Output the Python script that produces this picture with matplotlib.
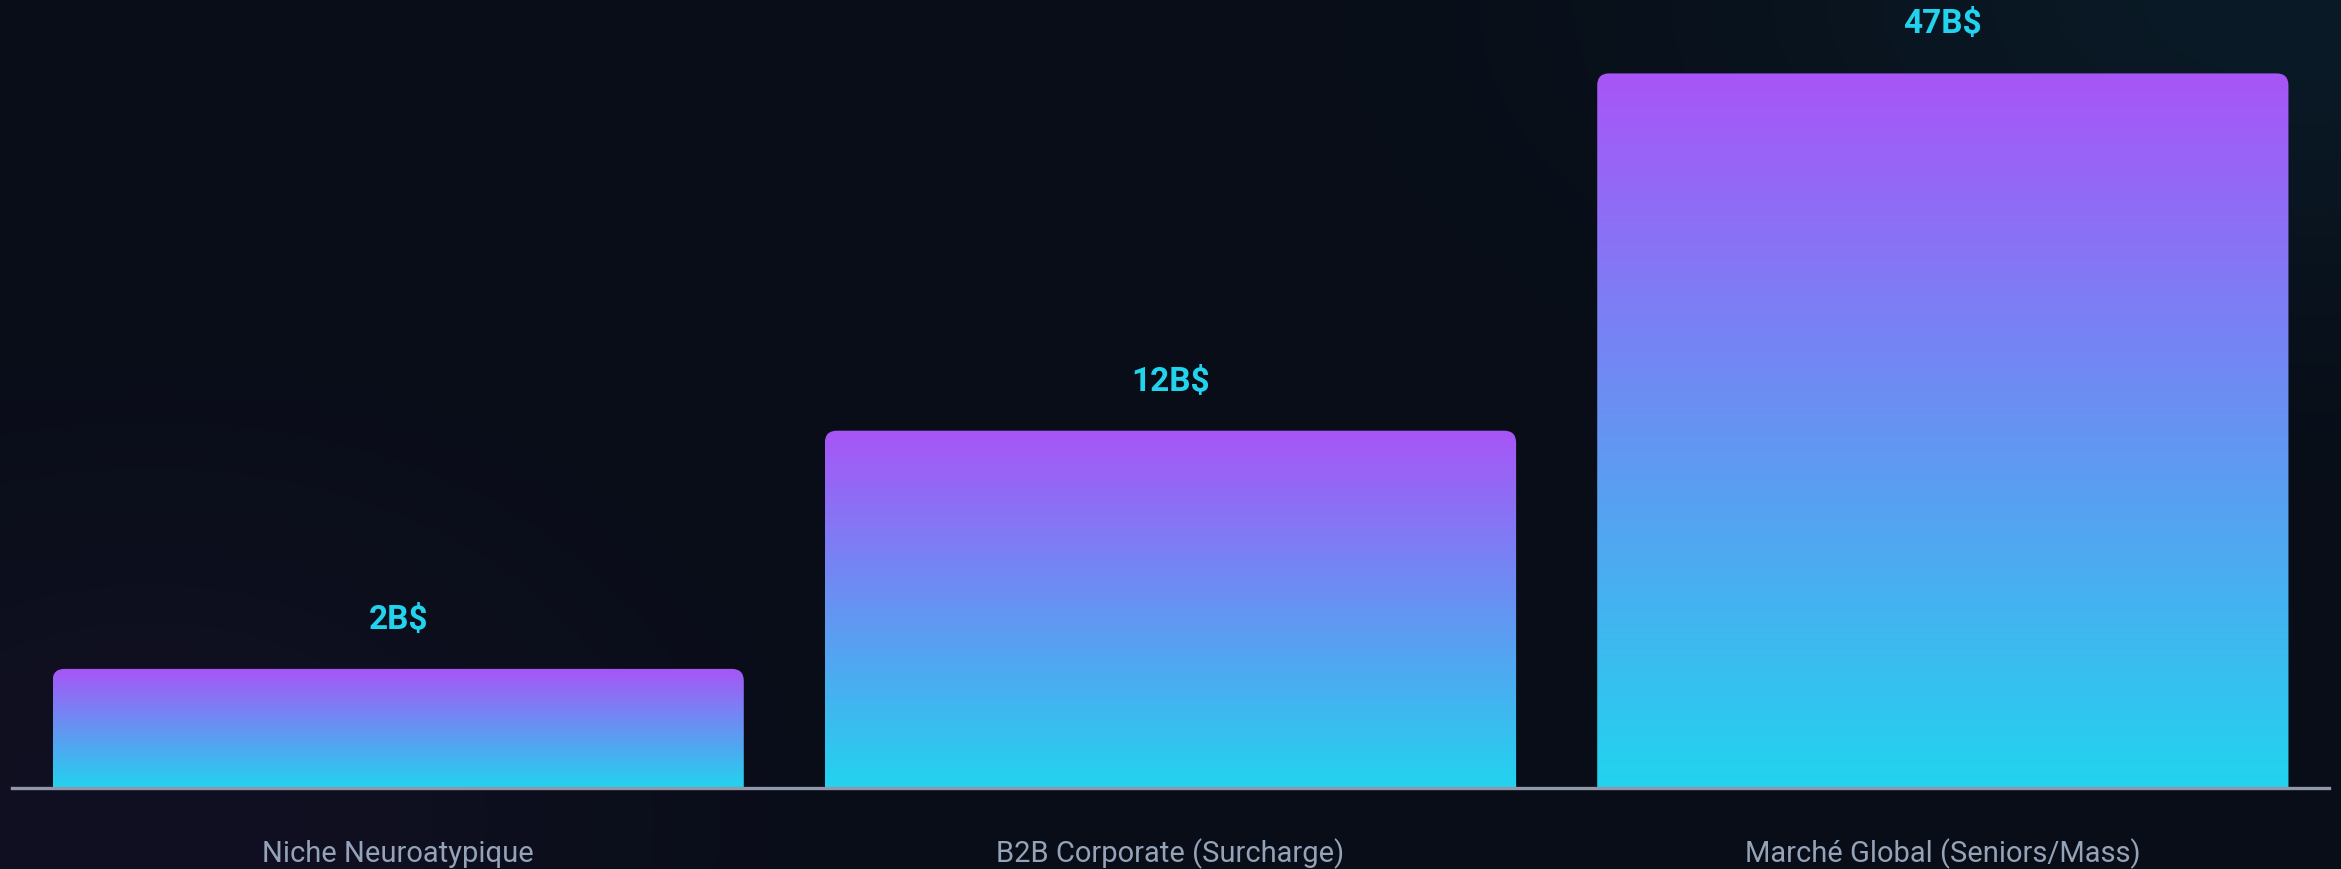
import numpy as np
import matplotlib.pyplot as plt
from matplotlib.colors import LinearSegmentedColormap
from matplotlib.path import Path
from matplotlib.patches import PathPatch

# Données du graphique
categories = ["Niche Neuroatypique", "B2B Corporate (Surcharge)", "Marché Global (Seniors/Mass)"]
value_labels = ["2B$", "12B$", "47B$"]
heights = [15, 45, 90]  # hauteur des barres en % du conteneur

W, H, DPI = 2341, 869, 100
bg = "#080d17"
cyan = "#22d3ee"
purple = "#a855f7"
grey = "#94a3b8"
fonts = ["Roboto", "DejaVu Sans"]

fig = plt.figure(figsize=(W / DPI, H / DPI), dpi=DPI, facecolor=bg)

# Fond avec de légères lueurs
bg_ax = fig.add_axes([0, 0, 1, 1], zorder=0)
yy, xx = np.mgrid[0:H:2, 0:W:2]
base = np.array([8, 13, 23]) / 255.0
img = np.ones((yy.shape[0], yy.shape[1], 3)) * base
g1 = np.exp(-(((xx - 150) / 500.0) ** 2 + ((yy - 820) / 350.0) ** 2))
g2 = np.exp(-(((xx - 2300) / 600.0) ** 2 + ((yy - 0) / 300.0) ** 2))
img += g1[..., None] * (np.array([9, 3, 11]) / 255.0)
img += g2[..., None] * (np.array([2, 13, 15]) / 255.0)
bg_ax.imshow(np.clip(img, 0, 1), aspect="auto", extent=(0, 1, 0, 1))
bg_ax.axis("off")

# Axes principaux
left, right = 12 / W, 2329 / W
bottom = 1 - 788 / H
height = 794 / H
ax = fig.add_axes([left, bottom, right - left, height], zorder=1)
ax.set_facecolor("none")
ax.set_xlim(-0.5, 2.5)
ax.set_ylim(0, 100)
ax.axis("off")

cmap = LinearSegmentedColormap.from_list("grad", [cyan, purple])
grad = np.linspace(0, 1, 256).reshape(-1, 1)

bar_w = 0.895
ax_w_px = (right - left) * W
ax_h_px = height * H
r_px = 12
rx = r_px / (ax_w_px / 3.0)
ry = r_px / (ax_h_px / 100.0)

for i, h in enumerate(heights):
    x0, x1 = i - bar_w / 2, i + bar_w / 2
    verts = [(x0, 0), (x0, h - ry), (x0, h), (x0 + rx, h), (x1 - rx, h),
             (x1, h), (x1, h - ry), (x1, 0), (x0, 0)]
    codes = [Path.MOVETO, Path.LINETO, Path.CURVE3, Path.CURVE3, Path.LINETO,
             Path.CURVE3, Path.CURVE3, Path.LINETO, Path.CLOSEPOLY]
    patch = PathPatch(Path(verts, codes), facecolor="none", edgecolor="none")
    ax.add_patch(patch)
    im = ax.imshow(grad, cmap=cmap, origin="lower", aspect="auto",
                   extent=(x0, x1, 0, h), interpolation="bicubic", zorder=2)
    im.set_clip_path(patch)

    ax.annotate(value_labels[i], xy=(i, h), xytext=(0, 35.3), textcoords="offset points",
                ha="center", va="center", color=cyan, fontsize=24,
                fontweight="bold", family=fonts, zorder=4)
    ax.annotate(categories[i], xy=(i, 0), xytext=(0, -47.5), textcoords="offset points",
                ha="center", va="center", color=grey, fontsize=21,
                family=fonts, annotation_clip=False, zorder=4)

ax.axhline(0, color="#8f98aa", linewidth=2.4, zorder=3, clip_on=False)

fig.savefig("out.png", dpi=DPI, facecolor=bg)
